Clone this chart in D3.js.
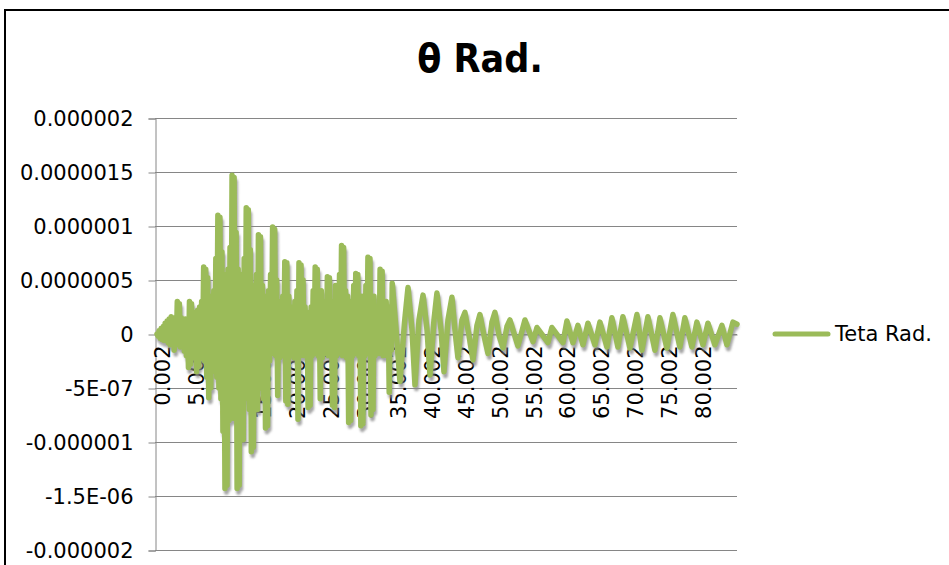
<!DOCTYPE html>
<html>
<head>
<meta charset="utf-8">
<script src="https://cdn.jsdelivr.net/npm/d3@7"></script>
<style>
  html, body { margin: 0; padding: 0; background: #fff; }
  svg { display: block; }
</style>
</head>
<body>
<svg id="chart" width="949" height="565"></svg>
<script>
// Rotation angle θ over time (s); values listed in micro-radians.
const timeS = [
  0.00, 0.15, 0.30, 0.45, 0.60, 0.75, 0.90, 1.05, 1.20, 1.35,
  1.50, 1.65, 1.80, 1.95, 2.10, 2.25, 2.40, 2.55, 2.70, 2.85,
  3.00, 3.15, 3.30, 3.45, 3.60, 3.75, 3.90, 4.05, 4.20, 4.35,
  4.50, 4.65, 4.80, 4.95, 5.10, 5.25, 5.40, 5.55, 5.70, 5.85,
  6.00, 6.15, 6.30, 6.45, 6.60, 6.75, 6.90, 7.05, 7.20, 7.35,
  7.50, 7.65, 7.80, 7.95, 8.10, 8.25, 8.40, 8.55, 8.70, 8.85,
  9.00, 9.15, 9.30, 9.45, 9.60, 9.75, 9.90, 10.05, 10.20, 10.35,
  10.50, 10.65, 10.80, 10.95, 11.10, 11.25, 11.40, 11.55, 11.70, 11.85,
  12.00, 12.15, 12.30, 12.45, 12.60, 12.75, 12.90, 13.05, 13.20, 13.35,
  13.50, 13.65, 13.80, 13.95, 14.10, 14.25, 14.40, 14.55, 14.70, 14.85,
  15.00, 15.15, 15.30, 15.45, 15.60, 15.75, 15.90, 16.05, 16.20, 16.35,
  16.50, 16.65, 16.80, 16.95, 17.10, 17.25, 17.40, 17.55, 17.70, 17.85,
  18.00, 18.15, 18.30, 18.45, 18.60, 18.75, 18.90, 19.05, 19.20, 19.35,
  19.50, 19.65, 19.80, 19.95, 20.10, 20.25, 20.40, 20.55, 20.70, 20.85,
  21.00, 21.15, 21.30, 21.45, 21.60, 21.75, 21.90, 22.05, 22.20, 22.35,
  22.50, 22.65, 22.80, 22.95, 23.10, 23.25, 23.40, 23.55, 23.70, 23.85,
  24.00, 24.15, 24.30, 24.45, 24.60, 24.75, 24.90, 25.05, 25.20, 25.35,
  25.50, 25.65, 25.80, 25.95, 26.10, 26.25, 26.40, 26.55, 26.70, 26.85,
  27.00, 27.15, 27.30, 27.45, 27.60, 27.75, 27.90, 28.05, 28.20, 28.35,
  28.50, 28.65, 28.80, 28.95, 29.10, 29.25, 29.40, 29.55, 29.70, 29.85,
  30.00, 30.15, 30.30, 30.45, 30.60, 30.75, 30.90, 31.05, 31.20, 31.35,
  31.50, 31.65, 31.80, 31.95, 32.10, 32.25, 32.40, 32.55, 32.70, 32.85,
  33.00, 33.15, 33.30, 33.45, 33.60, 33.75, 33.90, 34.05, 34.20, 34.35,
  34.50, 34.65, 34.80,
  35.35, 35.94, 36.60, 37.13, 37.72, 38.16, 38.75, 39.35, 39.94, 40.38,
  40.97, 41.41, 42.01, 42.45, 43.04, 43.63, 44.07, 44.52, 45.11, 45.55,
  46.14, 46.74, 47.33, 47.77, 48.36, 48.96, 49.55, 49.99, 50.58, 51.18,
  51.77, 52.21, 53.39, 54.43, 55.62, 56.21, 57.83, 58.42, 60.05, 60.64,
  61.53, 62.27, 63.01, 63.75, 64.78, 65.52, 66.56, 67.29, 68.18, 68.92,
  69.96, 71.00, 71.73, 72.62, 73.66, 74.40, 75.43, 76.32, 77.35, 78.09,
  79.13, 79.87, 80.76, 81.50, 82.53, 83.57, 84.31, 85.20, 85.80
];
const thetaMicroRad = [
  0.00, -0.02, 0.03, -0.04, 0.05, -0.05, 0.07, -0.06, 0.10, -0.05,
  0.12, -0.08, 0.14, -0.10, 0.16, -0.08, 0.12, -0.15, 0.15, -0.10,
  0.30, -0.08, 0.28, -0.12, 0.15, -0.10, 0.12, -0.16, 0.14, -0.20,
  0.12, -0.31, 0.30, -0.28, 0.28, -0.15, 0.18, -0.22, 0.20, -0.35,
  0.22, -0.30, 0.25, -0.20, 0.30, -0.22, 0.62, -0.25, 0.60, -0.40,
  0.52, -0.59, 0.35, -0.50, 0.30, -0.35, 0.40, -0.30, 0.70, -0.40,
  1.10, -0.50, 1.08, -0.60, 0.76, -0.90, 0.55, -1.43, 0.50, -1.40,
  0.60, -0.80, 0.80, -0.60, 1.47, -0.78, 1.45, -0.70, 0.94, -1.43,
  0.60, -1.40, 0.50, -0.80, 0.55, -0.98, 0.70, -0.60, 1.17, -0.55,
  1.15, -0.70, 0.78, -1.09, 0.45, -1.05, 0.40, -0.60, 0.55, -0.70,
  0.92, -0.45, 0.90, -0.50, 0.45, -0.60, 0.35, -0.87, 0.30, -0.85,
  0.40, -0.25, 0.55, -0.18, 0.99, -0.15, 0.97, -0.20, 0.50, -0.57,
  0.30, -0.22, 0.25, -0.15, 0.35, -0.20, 0.67, -0.62, 0.66, -0.65,
  0.35, -0.20, 0.08, -0.15, 0.25, -0.22, 0.30, -0.18, 0.40, -0.79,
  0.66, -0.20, 0.64, -0.15, 0.50, -0.20, 0.25, -0.15, 0.20, -0.68,
  0.08, -0.66, 0.25, -0.20, 0.40, -0.15, 0.62, -0.18, 0.60, -0.20,
  0.30, -0.60, 0.40, -0.22, 0.20, -0.15, 0.30, -0.18, 0.53, -0.20,
  0.52, -0.15, 0.25, -0.66, 0.30, -0.68, 0.45, -0.20, 0.30, -0.15,
  0.55, -0.18, 0.82, -0.20, 0.80, -0.15, 0.40, -0.22, 0.35, -0.82,
  0.05, -0.80, 0.30, -0.20, 0.45, -0.15, 0.56, -0.18, 0.55, -0.20,
  0.30, -0.85, 0.35, -0.83, 0.25, -0.20, 0.45, -0.15, 0.71, -0.18,
  0.70, -0.75, 0.30, -0.70, 0.35, -0.20, 0.25, -0.15, 0.05, -0.18,
  0.60, -0.15, 0.58, -0.20, 0.30, -0.15, 0.30, -0.20, 0.20, -0.54,
  0.25, -0.15, 0.47,
  0.05, -0.44, 0.10, 0.43, 0.04, -0.47, 0.13, 0.36, 0.04, -0.38,
  0.13, 0.38, 0.04, -0.35, 0.13, 0.34, 0.04, -0.22, 0.13, 0.20,
  -0.01, -0.24, 0.08, 0.18, -0.01, -0.18, 0.11, 0.20, -0.01, -0.13,
  0.07, 0.13, -0.11, 0.13, -0.07, 0.06, -0.08, 0.06, -0.08, 0.12,
  -0.08, 0.08, -0.10, 0.10, -0.10, 0.11, -0.12, 0.15, -0.12, 0.16,
  -0.13, 0.18, -0.15, 0.16, -0.15, 0.15, -0.13, 0.18, -0.12, 0.15,
  -0.12, 0.11, -0.10, 0.10, -0.10, 0.08, -0.10, 0.11, 0.09
];

const xTickTimes = [0.002, 5.002, 10.002, 15.002, 20.002, 25.002, 30.002, 35.002,
  40.002, 45.002, 50.002, 55.002, 60.002, 65.002, 70.002, 75.002, 80.002];
const xTickLabels = ["0.002", "5.002", "10.002", "15.002", "20.002", "25.002", "30.002", "35.002",
  "40.002", "45.002", "50.002", "55.002", "60.002", "65.002", "70.002", "75.002", "80.002"];
const yTickValues = [2e-6, 1.5e-6, 1e-6, 5e-7, 0, -5e-7, -1e-6, -1.5e-6, -2e-6];
const yTickLabels = ["0.000002", "0.0000015", "0.000001", "0.0000005", "0",
  "-5E-07", "-0.000001", "-1.5E-06", "-0.000002"];

const seriesName = "Teta Rad.";
const chartTitle = "θ Rad.";
const lineColor = "#9BBB59";

const svg = d3.select("#chart");
const plot = { left: 155, right: 737, top: 118, bottom: 550 };

const x = d3.scaleLinear().domain([-0.3, 85.8]).range([plot.left, plot.right]);
const y = d3.scaleLinear().domain([-2e-6, 2e-6]).range([plot.bottom, plot.top]);

// soft drop shadow under the series line
const defs = svg.append("defs");
defs.append("filter")
  .attr("id", "lineShadow")
  .attr("x", "-5%").attr("y", "-5%")
  .attr("width", "110%").attr("height", "110%")
  .append("feGaussianBlur")
  .attr("stdDeviation", 0.8);

// outer frame
svg.append("rect")
  .attr("x", 5).attr("y", 10)
  .attr("width", 960).attr("height", 580)
  .attr("fill", "#fff")
  .attr("stroke", "#000")
  .attr("stroke-width", 2);

// title
svg.append("text")
  .attr("x", 480).attr("y", 72)
  .attr("text-anchor", "middle")
  .attr("font-family", "'DejaVu Sans Condensed', 'DejaVu Sans', sans-serif")
  .attr("font-weight", "bold")
  .attr("font-size", 39)
  .attr("fill", "#000")
  .text(chartTitle);

// horizontal gridlines
svg.append("g")
  .selectAll("line")
  .data(yTickValues)
  .join("line")
  .attr("x1", plot.left).attr("x2", plot.right)
  .attr("y1", d => Math.round(y(d)) + 0.5)
  .attr("y2", d => Math.round(y(d)) + 0.5)
  .attr("stroke", "#868686")
  .attr("stroke-width", 1);

// value axis
const yAxis = d3.axisLeft(y)
  .tickValues(yTickValues)
  .tickFormat((d, i) => yTickLabels[i])
  .tickSize(7)
  .tickPadding(15);
const gy = svg.append("g")
  .attr("transform", `translate(${plot.left + 0.5},0.5)`)
  .call(yAxis);
gy.select(".domain").attr("stroke", "#868686");
gy.selectAll(".tick line").attr("stroke", "#868686");
gy.selectAll(".tick text")
  .attr("font-family", "'DejaVu Sans', sans-serif")
  .attr("font-size", 21)
  .attr("fill", "#000");

// category axis crossing at zero
const xAxis = d3.axisBottom(x)
  .tickValues(xTickTimes)
  .tickFormat((d, i) => xTickLabels[i])
  .tickSize(0);
const gx = svg.append("g")
  .attr("transform", `translate(0,${Math.round(y(0)) + 0.5})`)
  .call(xAxis);
gx.select(".domain").attr("stroke", "#868686");
gx.selectAll(".tick text")
  .attr("font-family", "'DejaVu Sans', sans-serif")
  .attr("font-size", 21)
  .attr("fill", "#000")
  .attr("text-anchor", "end")
  .attr("transform", "rotate(-90)")
  .attr("x", -11)
  .attr("y", 5)
  .attr("dy", "0.35em");

// series line with its shadow
const points = timeS.map((t, i) => [t, thetaMicroRad[i] * 1e-6]);
const line = d3.line().x(d => x(d[0])).y(d => y(d[1]));
svg.append("path")
  .datum(points)
  .attr("d", line)
  .attr("transform", "translate(1.5,4)")
  .attr("fill", "none")
  .attr("stroke", "#8a8a8a")
  .attr("stroke-opacity", 0.75)
  .attr("stroke-width", 5)
  .attr("stroke-linejoin", "round")
  .attr("filter", "url(#lineShadow)");
svg.append("path")
  .datum(points)
  .attr("d", line)
  .attr("fill", "none")
  .attr("stroke", lineColor)
  .attr("stroke-width", 5.5)
  .attr("stroke-linejoin", "round")
  .attr("stroke-linecap", "round");

// legend
const lg = svg.append("g").attr("transform", "translate(775,334)");
lg.append("line")
  .attr("x1", 0).attr("x2", 53)
  .attr("y1", 0).attr("y2", 0)
  .attr("stroke", lineColor)
  .attr("stroke-width", 5)
  .attr("stroke-linecap", "round");
lg.append("text")
  .attr("x", 60).attr("y", 0)
  .attr("dy", "0.35em")
  .attr("font-family", "'DejaVu Sans', sans-serif")
  .attr("font-size", 21)
  .attr("fill", "#000")
  .text(seriesName);
</script>
</body>
</html>
